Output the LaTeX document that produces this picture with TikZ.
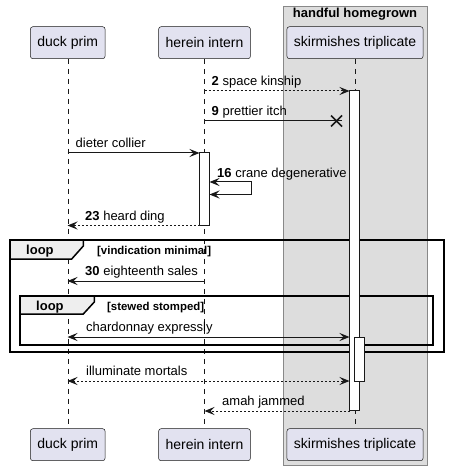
\documentclass[tikz,border=0pt]{standalone}
\usepackage{fontspec}
\setmainfont{Liberation Sans}
\usetikzlibrary{arrows.meta}
\definecolor{partfill}{HTML}{E2E2F0}
\definecolor{partline}{HTML}{181818}
\definecolor{boxfill}{HTML}{DDDDDD}
\definecolor{boxline}{HTML}{888888}
\definecolor{tabfill}{HTML}{EEEEEE}
\begin{document}
\begin{tikzpicture}[x=1pt, y=-1pt,
  part/.style={draw=partline, fill=partfill, rounded corners=2.5pt, line width=0.5pt, minimum height=32pt, inner xsep=7pt, font=\fontsize{14}{16}\selectfont},
  life/.style={draw=partline, line width=0.5pt, dash pattern=on 5pt off 5pt},
  act/.style={draw=partline, fill=white, line width=1pt},
  msg/.style={draw=partline, line width=1pt, -{Stealth[length=10pt, width=8pt, inset=4pt]}},
  twoway/.style={draw=partline, line width=1pt, {Stealth[length=10pt, width=8pt, inset=4pt]}-{Stealth[length=10pt, width=8pt, inset=4pt]}},
  reply/.style={dash pattern=on 2pt off 2pt},
  lbl/.style={anchor=base west, inner sep=0pt, font=\fontsize{13}{15}\selectfont},
  loopframe/.style={draw=black, line width=1.5pt},
  looptab/.style={draw=black, line width=1.5pt, fill=tabfill},
  guard/.style={anchor=base west, inner sep=0pt, font=\fontsize{11.4}{13}\selectfont\bfseries}]
\useasboundingbox (0,0) rectangle (448,470);

\draw[draw=boxline, fill=boxfill] (283,6) rectangle (427.5,465);
\node[anchor=base, inner sep=0pt, font=\fontsize{13}{15}\selectfont\bfseries] (grptitle) at (355,18) {handful homegrown};

\node[part] (duckT) at (67.75,42.7) {duck prim};
\node[part] (hereT) at (204.5,42.7) {herein intern};
\node[part] (skirT) at (355,42.7) {skirmishes triplicate};
\node[part] (duckB) at (67.75,444.7) {duck prim};
\node[part] (hereB) at (204.5,444.7) {herein intern};
\node[part] (skirB) at (355,444.7) {skirmishes triplicate};

\draw[life] (duckT.south) -- (duckB.north);
\draw[life] (hereT.south) -- (hereB.north);
\draw[life] (skirT.south) -- (skirB.north);

\draw[loopframe] (10,240) rectangle (444,352);
\draw[looptab] (10,240) -- (83.3,240) -- (83.3,246) -- (71.7,259) -- (10,259) -- cycle;
\node[anchor=base west, inner sep=0pt, font=\fontsize{13}{15}\selectfont\bfseries] (outerkw) at (26,254) {loop};
\node[guard] (outerguard) at (97,254) {[vindication minimal]};

\draw[loopframe] (20,296) rectangle (433,345);
\draw[looptab] (20,296) -- (94.3,296) -- (94.3,302) -- (83.3,314) -- (20,314) -- cycle;
\node[anchor=base west, inner sep=0pt, font=\fontsize{13}{15}\selectfont\bfseries] (innerkw) at (36,310) {loop};
\node[guard] (innerguard) at (107,310) {[stewed stomped]};

\draw[act] (199.5,153) rectangle (209.5,225);
\draw[act] (349.5,91) rectangle (359.5,410.7);
\draw[act] (354.5,337) rectangle (364,381);

\coordinate (kinA) at (204.5,91);   \coordinate (kinB) at (349.5,91);
\coordinate (itchA) at (204.5,121); \coordinate (itchB) at (336.5,121);
\coordinate (colA) at (67.5,153);   \coordinate (colB) at (199.5,153);
\coordinate (craA) at (209.5,182);  \coordinate (craB) at (251,182);
\coordinate (craC) at (251,194.5);  \coordinate (craD) at (209.5,194.5);
\coordinate (dingA) at (199.5,225.5); \coordinate (dingB) at (67.5,225.5);
\coordinate (saleA) at (204.5,281); \coordinate (saleB) at (67.5,281);
\coordinate (chaA) at (67.5,337);   \coordinate (chaB) at (349.5,337);
\coordinate (illA) at (67.5,381);   \coordinate (illB) at (349.5,381);
\coordinate (amahA) at (349.5,411); \coordinate (amahB) at (204.5,411);

\draw[msg, reply] (kinA) -- (kinB);
\draw[draw=partline, line width=1pt] (itchA) -- ([xshift=5pt]itchB);
\draw[draw=partline, line width=1.5pt] ([shift={(-5.5pt,-5.5pt)}]itchB) -- ([shift={(5.5pt,5.5pt)}]itchB)
  ([shift={(-5.5pt,5.5pt)}]itchB) -- ([shift={(5.5pt,-5.5pt)}]itchB);
\draw[msg] (colA) -- (colB);
\draw[twoway] (craA) -- (craB) -- (craC) -- (craD);
\draw[msg, reply] (dingA) -- (dingB);
\draw[msg] (saleA) -- (saleB);
\draw[twoway] (chaA) -- (chaB);
\draw[twoway, reply] (illA) -- (illB);
\draw[msg, reply] (amahA) -- (amahB);

\node[lbl] (kinL) at (211.5,85.5) {\textbf{2} space kinship};
\node[lbl] (itchL) at (211.5,115.5) {\textbf{9} prettier itch};
\node[lbl] (colL) at (75.5,147.5) {dieter collier};
\node[lbl] (craL) at (217,177.5) {\textbf{16} crane degenerative};
\node[lbl] (dingL) at (85,220) {\textbf{23} heard ding};
\node[lbl] (saleL) at (85,275.5) {\textbf{30} eighteenth sales};
\node[lbl] (chaL) at (86,331.5) {chardonnay expressly};
\node[lbl] (illL) at (86,375.5) {illuminate mortals};
\node[lbl] (amahL) at (222,405.5) {amah jammed};
\end{tikzpicture}
\end{document}
